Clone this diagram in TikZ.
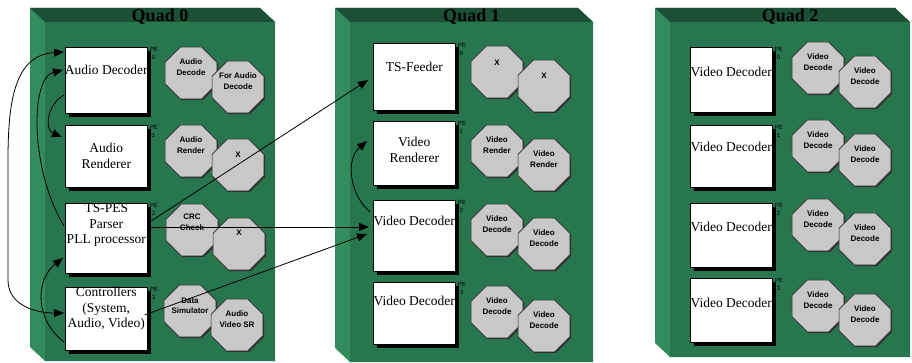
\documentclass[tikz,border=0pt]{standalone}
\usepackage{fontspec}
\setmainfont{Liberation Serif}
\newfontfamily\octfont{Liberation Sans}
\usetikzlibrary{arrows.meta,shapes.geometric,calc}

\definecolor{boardface}{RGB}{40,118,78}
\definecolor{boardtop}{RGB}{27,80,54}
\definecolor{boardside}{RGB}{50,140,92}
\definecolor{octfill}{RGB}{200,200,200}

\tikzset{
  pebox/.style={draw=black, line width=0.6pt, fill=white, minimum width=82pt,
    inner sep=0pt, anchor=north west,
    preaction={fill=black, transform canvas={xshift=4pt, yshift=-4pt}}},
  boxtext/.style={font=\fontsize{13.5}{15.5}\selectfont, align=center, inner sep=0pt},
  petext/.style={font=\octfont\fontsize{6}{6}\selectfont, inner sep=0pt, anchor=north west},
  octnode/.style={regular polygon, regular polygon sides=8, minimum size=56pt,
    inner sep=0pt, draw=black!85, line width=0.7pt, fill=octfill,
    preaction={fill=black!80, transform canvas={xshift=1.3pt, yshift=-1.3pt}}},
  octtext/.style={font=\octfont\bfseries\fontsize{8}{10.5}\selectfont, align=center,
    inner sep=0pt},
  quadtitle/.style={font=\bfseries\fontsize{18}{18}\selectfont, inner sep=0pt},
  conn/.style={line width=0.8pt, black},
  tipend/.style={-{Triangle[length=10pt,width=8pt]}},
  tipstart/.style={{Triangle[length=10pt,width=8pt]}-},
  tipboth/.style={{Triangle[length=10pt,width=8pt]}-{Triangle[length=10pt,width=8pt]}},
}

% board: left x, right x, bottom y, title, name
\newcommand\quadboard[5]{%
  \fill[boardside] (#1,8) -- (#2-15,8) -- (#2,22) -- (#2,#3) -- (#1+15,#3)
    -- (#1,#3-14) -- cycle;
  \fill[boardtop] (#1,8) -- (#2-15,8) -- (#2,22) -- (#1+15,22) -- cycle;
  \fill[boardface] (#1+15,22) rectangle (#2,#3);
  \node[quadtitle] (#5) at ({(#1+15+#2)/2},17) {#4};
}

% processing element box: name, x, top y, height, PE digit
\newcommand\peunit[5]{%
  \node[pebox, minimum height=#4pt] (#1) at (#2,#3) {};
  \node[petext] (#1pe) at ($(#1.north east)+(2,0)$) {PE};
  \node[petext] (#1no) at ($(#1.north east)+(4,8)$) {#5};
}

% pair of task octagons: name, x of first, y of first, text one, text two, lift one, lift two
\newcommand\octpair[7]{%
  \node[octnode] (#1a) at (#2,#3) {};
  \node[octnode] (#1b) at (#2+47,#3+14) {};
  \node[octtext] (#1at) at ($(#1a.center)+(0,#6)$) {#4};
  \node[octtext] (#1bt) at ($(#1b.center)+(0,#7)$) {#5};
}

\begin{document}
\begin{tikzpicture}[x=1pt, y=-1pt]
  \useasboundingbox[fill=white] (0,0) rectangle (912,363);

  % boards
  \quadboard{30}{275}{361}{Quad 0}{q0}
  \quadboard{335}{593}{362}{Quad 1}{q1}
  \quadboard{655}{910}{357}{Quad 2}{q2}

  % Quad 0
  \peunit{ad0}{65}{47}{66}{0}
  \peunit{ar0}{65}{125}{62}{1}
  \peunit{ts0}{65}{203}{70}{2}
  \peunit{c0}{65}{287}{63}{3}
  \node[boxtext] (ad0t) at ($(ad0.north)+(0,23)$) {Audio Decoder};
  \node[boxtext] (ar0t) at ($(ar0.north)+(0,31)$) {Audio\\Renderer};
  \node[boxtext] (ts0t) at ($(ts0.north)+(0,22)$) {TS-PES\\Parser\\PLL processor};
  \node[boxtext] (c0t) at ($(c0.north)+(0,22)$) {Controllers\\(System,\\Audio, Video)};
  \octpair{oa}{191}{73}{Audio\\Decode}{For Audio\\Decode}{-6}{-6}
  \octpair{ob}{191}{151}{Audio\\Render}{X}{-6}{-10}
  \octpair{oc}{192}{230}{CRC\\Check}{X}{-8}{-11}
  \octpair{od}{190}{311}{Data\\Simulator}{Audio\\Video SR}{-5}{-6}

  % Quad 1
  \peunit{tsf}{373}{43}{67}{0}
  \peunit{vr1}{373}{121}{64}{1}
  \peunit{vd1}{373}{200}{71}{2}
  \peunit{vd2}{373}{282}{62}{3}
  \node[boxtext] (tsft) at ($(tsf.north)+(0,24)$) {TS-Feeder};
  \node[boxtext] (vr1t) at ($(vr1.north)+(0,29)$) {Video\\Renderer};
  \node[boxtext] (vd1t) at ($(vd1.north)+(0,21)$) {Video Decoder};
  \node[boxtext] (vd2t) at ($(vd2.north)+(0,19)$) {Video Decoder};
  \octpair{oe}{497}{72}{X}{X}{-9}{-10}
  \octpair{of}{497}{151}{Video\\Render}{Video\\Render}{-6}{-6}
  \octpair{og}{497}{230}{Video\\Decode}{Video\\Decode}{-6}{-6}
  \octpair{oh}{497}{312}{Video\\Decode}{Video\\Decode}{-6}{-6}

  % Quad 2
  \peunit{vd3}{690}{47}{65}{0}
  \peunit{vd4}{690}{125}{62}{1}
  \peunit{vd5}{690}{203}{64}{2}
  \peunit{vd6}{690}{278}{64}{3}
  \node[boxtext] (vd3t) at ($(vd3.north)+(0,25)$) {Video Decoder};
  \node[boxtext] (vd4t) at ($(vd4.north)+(0,22)$) {Video Decoder};
  \node[boxtext] (vd5t) at ($(vd5.north)+(0,24)$) {Video Decoder};
  \node[boxtext] (vd6t) at ($(vd6.north)+(0,25)$) {Video Decoder};
  \octpair{oi}{818}{68}{Video\\Decode}{Video\\Decode}{-6}{-6}
  \octpair{oj}{818}{146}{Video\\Decode}{Video\\Decode}{-6}{-6}
  \octpair{ok}{818}{225}{Video\\Decode}{Video\\Decode}{-6}{-6}
  \octpair{ol}{818}{306}{Video\\Decode}{Video\\Decode}{-6}{-6}

  % links inside Quad 0
  \draw[conn, tipboth] ($(ad0.north west)+(-1,5)$)
    .. controls (15,55) and (8,100) .. (8,160) -- (8,280)
    .. controls (8,305) and (35,313) .. ($(c0.north west)+(-1,26)$);
  \draw[conn, tipstart] ($(ad0.north west)+(-2,23)$)
    .. controls (30,78) and (30,170) .. ($(ts0.north west)+(-1,23)$);
  \draw[conn, tipend] ($(ad0.north west)+(-1,48)$)
    .. controls (46,105) and (45,130) .. ($(ar0.north west)+(-3,12)$);
  \draw[conn, tipend] ($(c0.north west)+(-1,55)$)
    .. controls (35,320) and (35,280) .. ($(ts0.north west)+(-2,55)$);

  % links inside Quad 1
  \draw[conn, tipend] ($(vd1.north west)+(-3,12)$)
    .. controls (350,195) and (345,160) .. ($(vr1.north west)+(-6,20)$);

  % links from Quad 0 to Quad 1
  \draw[conn, tipend] ($(ts0.north east)+(2,19)$) -- ($(tsf.north west)+(-5,37)$);
  \draw[conn, tipend] ($(ts0.north east)+(0,24)$) -- ($(vd1.north west)+(-4,27)$);
  \draw[conn, tipend] ($(c0.north east)+(-3,28)$) -- ++(8,-3)
    -- ($(vd1.north west)+(-6,34)$);
\end{tikzpicture}
\end{document}
